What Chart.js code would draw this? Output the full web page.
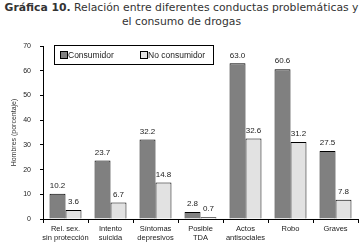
<!DOCTYPE html>
<html>
<head>
<meta charset="utf-8">
<script src="https://cdn.jsdelivr.net/npm/chart.js@4"></script>
<style>
  html, body { margin: 0; padding: 0; background: #fff; }
  #wrap { position: relative; width: 363px; height: 242px; }
  #title {
    position: absolute; left: 0; top: 1px; width: 363px;
    text-align: center; font-family: "DejaVu Sans", sans-serif;
    font-size: 10.8px; line-height: 14px; color: #333;
  }
  #title b { font-weight: bold; }
  canvas { position: absolute; left: 0; top: 0; }
</style>
</head>
<body>
<div id="wrap">
  <div id="title"><b>Gráfica 10.</b> Relación entre diferentes conductas problemáticas y<br>el consumo de drogas</div>
  <canvas id="chart" width="363" height="242"></canvas>
</div>
<script>
// values
const categories = [
  ['Rel. sex.', 'sin protección'],
  ['Intento', 'suicida'],
  ['Síntomas', 'depresivos'],
  ['Posible', 'TDA'],
  ['Actos', 'antisociales'],
  'Robo',
  'Graves'
];
const consumidor = [10.2, 23.7, 32.2, 2.8, 63.0, 60.6, 27.5];
const noConsumidor = [3.6, 6.7, 14.8, 0.7, 32.6, 31.2, 7.8];
const yTicks = [0, 10, 20, 30, 40, 50, 60, 70];

const tickFont = { family: 'Liberation Sans, Arial, sans-serif', size: 7 };

// value labels over each bar
const valueLabels = {
  id: 'valueLabels',
  afterDatasetsDraw(chart) {
    const ctx = chart.ctx;
    ctx.save();
    ctx.font = '8px Liberation Sans, Arial, sans-serif';
    ctx.fillStyle = '#222';
    ctx.textAlign = 'center';
    ctx.textBaseline = 'bottom';
    chart.data.datasets.forEach((ds, i) => {
      chart.getDatasetMeta(i).data.forEach((bar, j) => {
        ctx.fillText(ds.data[j].toFixed(1), bar.x, bar.y - 4);
      });
    });
    ctx.restore();
  }
};

// boxed legend inside the plot, like the original
const boxLegend = {
  id: 'boxLegend',
  afterDraw(chart) {
    const ctx = chart.ctx;
    const x = 54, y = 45, w = 159, h = 19;
    ctx.save();
    ctx.fillStyle = '#fff';
    ctx.fillRect(x, y, w, h);
    ctx.strokeStyle = '#000';
    ctx.lineWidth = 1;
    ctx.strokeRect(x + 0.5, y + 0.5, w, h);
    ctx.font = '8.5px Liberation Sans, Arial, sans-serif';
    ctx.textBaseline = 'middle';
    const items = [[60, 0], [140, 1]];
    items.forEach(([sx, i]) => {
      const ds = chart.data.datasets[i];
      ctx.fillStyle = ds.backgroundColor;
      ctx.fillRect(sx, y + 6, 7, 7);
      ctx.strokeStyle = '#000';
      ctx.strokeRect(sx + 0.5, y + 6.5, 7, 7);
      ctx.fillStyle = '#222';
      ctx.fillText(ds.label, sx + 8, y + 10.5);
    });
    ctx.restore();
  }
};

new Chart(document.getElementById('chart'), {
  type: 'bar',
  data: {
    labels: categories,
    datasets: [
      { label: 'Consumidor', data: consumidor, backgroundColor: '#808080', borderColor: '#000', borderWidth: 1 },
      { label: 'No consumidor', data: noConsumidor, backgroundColor: '#e2e2e2', borderColor: '#000', borderWidth: 1 }
    ]
  },
  options: {
    responsive: false,
    animation: false,
    devicePixelRatio: 1,
    layout: { padding: { top: 46, right: 5, left: 0, bottom: 0 } },
    categoryPercentage: 0.71,
    barPercentage: 1,
    plugins: { legend: { display: false }, tooltip: { enabled: false } },
    scales: {
      x: {
        grid: { offset: true, drawOnChartArea: false, tickLength: 4, color: '#000' },
        border: { color: '#000' },
        ticks: { font: { family: tickFont.family, size: 7.5 }, color: '#222', padding: 1, maxRotation: 0, autoSkip: false },
        afterFit(s) { s.height = 23; }
      },
      y: {
        min: 0, max: 70,
        afterBuildTicks(s) { s.ticks = yTicks.map(v => ({ value: v })); },
        grid: { drawOnChartArea: false, tickLength: 3, color: '#000' },
        border: { color: '#000' },
        ticks: { font: tickFont, color: '#222', padding: 9 },
        title: { display: true, text: 'Hombres (porcentaje)', font: tickFont, color: '#333', padding: { top: 10, bottom: 0 } },
        afterFit(s) { s.width = 43; }
      }
    }
  },
  plugins: [valueLabels, boxLegend]
});
</script>
</body>
</html>
